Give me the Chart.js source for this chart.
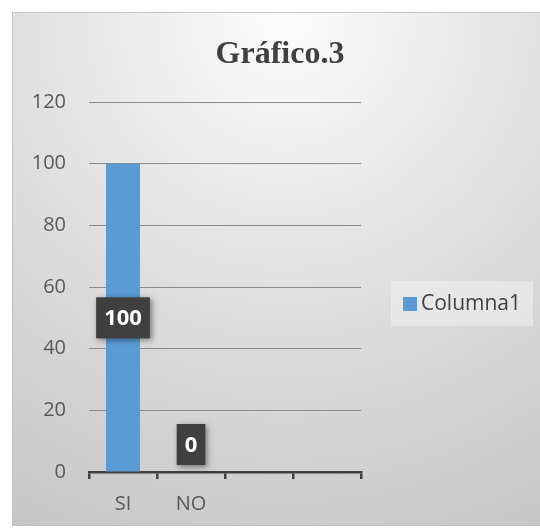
<!DOCTYPE html>
<html>
<head>
<meta charset="utf-8">
<script src="https://cdn.jsdelivr.net/npm/chart.js@4/dist/chart.umd.min.js"></script>
<style>
  html, body { margin: 0; padding: 0; background: #fff; }
  #wrap { width: 540px; height: 529px; }
</style>
</head>
<body>
<div id="wrap"><canvas id="chart" width="540" height="529"></canvas></div>
<script>
const categories = ['SI', 'NO', '', ''];
const values = [100, 0, null, null];
const seriesName = 'Columna1';
const chartTitle = 'Gráfico.3';
const yTicks = [0, 20, 40, 60, 80, 100, 120];

const labelFont = '"Open Sans", "Liberation Sans", sans-serif';

// fondo con degradado, marco y título
const backdrop = {
    id: 'backdrop',
    beforeDraw(chart) {
        const c = chart.ctx;
        c.save();
        c.fillStyle = '#ffffff';
        c.fillRect(0, 0, chart.width, chart.height);
        const g = c.createRadialGradient(285, 20, 10, 285, 20, 620);
        g.addColorStop(0, '#fbfbfb');
        g.addColorStop(0.5, '#dcdcdc');
        g.addColorStop(1, '#c2c2c2');
        c.fillStyle = g;
        c.fillRect(12, 12, chart.width - 12, chart.height - 16);
        c.strokeStyle = '#c4c4c4';
        c.lineWidth = 1;
        c.strokeRect(12.5, 12.5, chart.width - 12, chart.height - 16);
        c.font = 'bold 32px "Liberation Serif", "Times New Roman", serif';
        c.fillStyle = '#404040';
        c.textAlign = 'center';
        c.textBaseline = 'alphabetic';
        c.fillText(chartTitle, 280, 63);
        c.restore();
    }
};

// etiquetas de datos en cajas oscuras
const valueBoxes = {
    id: 'valueBoxes',
    afterDatasetsDraw(chart) {
        const c = chart.ctx;
        const meta = chart.getDatasetMeta(0);
        const yScale = chart.scales.y;
        c.save();
        c.font = 'bold 22px ' + labelFont;
        c.textAlign = 'center';
        c.textBaseline = 'middle';
        meta.data.forEach((bar, i) => {
            const v = chart.data.datasets[0].data[i];
            if (v === null || v === undefined) return;
            const txt = String(v);
            const w = c.measureText(txt).width + 16;
            const h = 41;
            let cy = yScale.getPixelForValue(v / 2);
            const zero = yScale.getPixelForValue(0);
            if (cy + h / 2 > zero - 7) cy = zero - 7 - h / 2;
            c.shadowColor = 'rgba(0,0,0,0.45)';
            c.shadowBlur = 6;
            c.shadowOffsetX = 2;
            c.shadowOffsetY = 2;
            c.fillStyle = '#3f3f3f';
            c.fillRect(bar.x - w / 2, cy - h / 2, w, h);
            c.shadowColor = 'transparent';
            c.fillStyle = '#ffffff';
            c.fillText(txt, bar.x, cy + 1);
        });
        c.restore();
    }
};

// leyenda a la derecha
const sideLegend = {
    id: 'sideLegend',
    afterDraw(chart) {
        const c = chart.ctx;
        const ds = chart.data.datasets[0];
        c.save();
        c.fillStyle = 'rgba(240,240,240,0.55)';
        c.fillRect(391, 281, 142, 45);
        c.fillStyle = ds.backgroundColor;
        c.fillRect(403, 297, 14, 14);
        c.font = '21px ' + labelFont;
        c.fillStyle = '#404040';
        c.textAlign = 'left';
        c.textBaseline = 'middle';
        c.fillText(ds.label, 421, 304);
        c.restore();
    }
};

const ctx = document.getElementById('chart').getContext('2d');
const chart = new Chart(ctx, {
    type: 'bar',
    data: {
        labels: categories,
        datasets: [{
            label: seriesName,
            data: values,
            backgroundColor: '#5b9bd5',
            borderWidth: 0,
            barPercentage: 0.5,
            categoryPercentage: 1
        }]
    },
    options: {
        responsive: false,
        animation: false,
        layout: { padding: { left: 0, right: 179, top: 102, bottom: 0 } },
        plugins: {
            legend: { display: false },
            tooltip: { enabled: false },
            title: { display: false }
        },
        scales: {
            x: {
                grid: {
                    offset: true,
                    drawOnChartArea: false,
                    drawTicks: true,
                    tickLength: 7,
                    color: '#404040',
                    lineWidth: 2.5
                },
                border: { display: true, color: '#404040', width: 2.5 },
                ticks: {
                    color: '#595959',
                    font: { family: labelFont, size: 20 },
                    padding: 13,
                    maxRotation: 0
                },
                afterFit(scale) { scale.height = 57; }
            },
            y: {
                min: 0,
                max: 120,
                grid: { color: '#8c8c8c', lineWidth: 1, drawTicks: false },
                border: { display: false },
                afterBuildTicks(scale) { scale.ticks = yTicks.map(v => ({ value: v })); },
                ticks: {
                    color: '#595959',
                    font: { family: labelFont, size: 20 },
                    padding: 23
                },
                afterFit(scale) { scale.width = 89; }
            }
        }
    },
    plugins: [backdrop, valueBoxes, sideLegend]
});
</script>
</body>
</html>
